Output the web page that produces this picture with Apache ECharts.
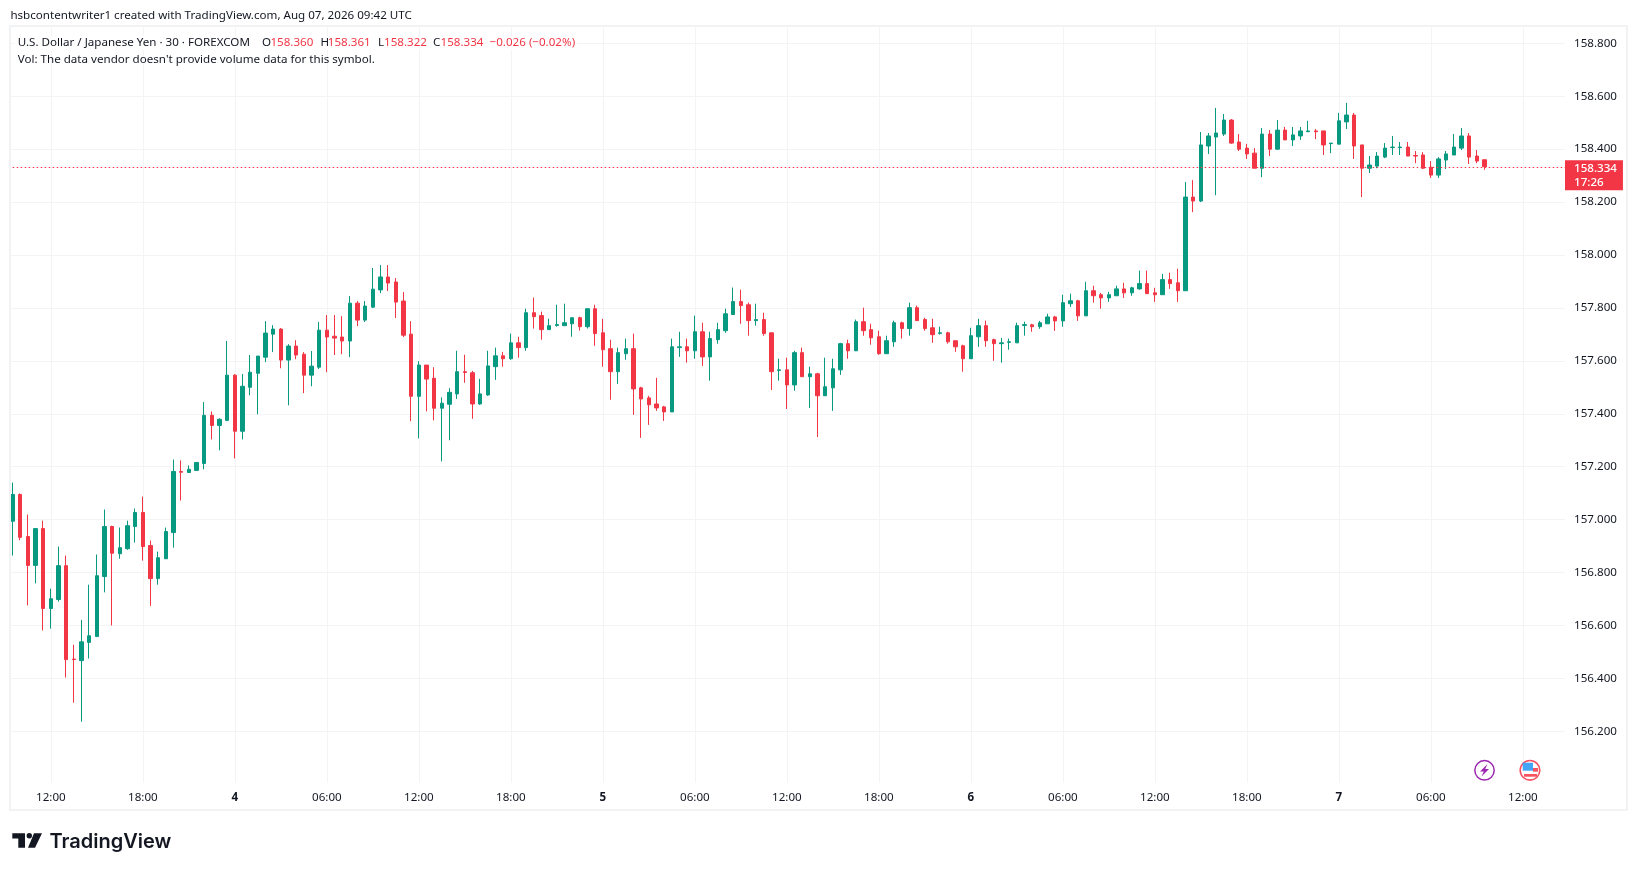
<!DOCTYPE html>
<html><head><meta charset="utf-8">
<style>html,body{margin:0;padding:0;background:#fff}#c{width:1637px;height:871px}</style>
<script src="https://cdn.jsdelivr.net/npm/echarts@6/dist/echarts.min.js"></script>
</head><body><div id="c"></div>
<script>
const opens=[156.994,157.095,156.936,156.827,156.966,156.664,156.698,156.826,156.473,156.467,156.536,156.558,156.785,156.974,156.871,156.890,156.974,157.027,156.902,156.777,156.852,156.951,157.182,157.178,157.186,157.212,157.394,157.356,157.375,157.546,157.334,157.500,157.553,157.614,157.701,157.720,157.603,157.656,157.625,157.546,157.576,157.716,157.693,157.690,157.675,157.818,157.754,157.803,157.868,157.917,157.898,157.826,157.701,157.466,157.584,157.534,157.421,157.436,157.475,157.559,157.555,157.437,157.471,157.578,157.619,157.608,157.668,157.650,157.782,157.771,157.718,157.734,157.733,157.740,157.763,157.729,157.797,157.706,157.646,157.559,157.627,157.646,157.498,157.460,157.437,157.426,157.407,157.650,157.653,157.638,157.710,157.615,157.680,157.714,157.775,157.824,157.812,157.752,157.756,157.706,157.564,157.566,157.509,157.631,157.540,157.551,157.468,157.498,157.566,157.665,157.638,157.748,157.718,157.691,157.627,157.672,157.744,157.722,157.801,157.756,157.725,157.704,157.706,157.676,157.657,157.608,157.691,157.733,157.680,157.665,157.670,157.668,157.734,157.736,157.729,157.740,157.766,157.751,157.816,157.827,157.770,157.865,157.850,157.838,157.846,157.872,157.857,157.872,157.892,157.857,157.850,157.907,157.895,157.865,158.219,158.204,158.412,158.446,158.457,158.510,158.427,158.404,158.385,158.328,158.457,158.400,158.472,158.435,158.450,158.466,158.469,158.469,158.421,158.419,158.503,158.529,158.416,158.328,158.336,158.370,158.406,158.406,158.408,158.376,158.378,158.332,158.302,158.359,158.378,158.404,158.450,158.374,158.360];
const closes=[157.095,156.933,156.827,156.966,156.664,156.701,156.826,156.471,156.471,156.538,156.561,156.788,156.974,156.873,156.894,156.977,157.027,156.898,156.777,156.856,156.955,157.182,157.179,157.190,157.216,157.394,157.356,157.379,157.546,157.334,157.504,157.557,157.618,157.705,157.720,157.603,157.656,157.622,157.546,157.580,157.716,157.690,157.686,157.675,157.818,157.754,157.807,157.871,157.917,157.894,157.822,157.697,157.466,157.584,157.531,157.421,157.440,157.481,157.559,157.556,157.437,157.475,157.581,157.619,157.608,157.668,157.650,157.782,157.767,157.718,157.733,157.737,157.744,157.763,157.729,157.797,157.703,157.642,157.559,157.631,157.646,157.494,157.456,157.434,157.422,157.407,157.653,157.653,157.638,157.710,157.615,157.684,157.718,157.778,157.824,157.809,157.752,157.756,157.703,157.559,157.566,157.509,157.631,157.540,157.551,157.468,157.502,157.570,157.665,157.638,157.748,157.714,157.687,157.627,157.676,157.744,157.722,157.801,157.752,157.722,157.699,157.706,157.672,157.653,157.608,157.695,157.733,157.676,157.665,157.668,157.672,157.733,157.737,157.729,157.744,157.766,157.751,157.820,157.827,157.770,157.865,157.846,157.838,157.850,157.872,157.857,157.876,157.892,157.854,157.850,157.907,157.892,157.865,158.219,158.204,158.416,158.450,158.461,158.510,158.423,158.400,158.382,158.328,158.457,158.400,158.472,158.435,158.454,158.469,158.469,158.466,158.416,158.423,158.507,158.529,158.412,158.328,158.340,158.374,158.404,158.408,158.408,158.374,158.374,158.328,158.302,158.363,158.382,158.408,158.450,158.370,158.355,158.334];
const lows=[156.864,156.922,156.676,156.759,156.581,156.588,156.690,156.403,156.308,156.236,156.475,156.558,156.725,156.600,156.852,156.886,156.913,156.845,156.674,156.754,156.852,156.894,157.072,157.178,157.186,157.190,157.303,157.262,157.375,157.231,157.303,157.470,157.398,157.595,157.633,157.572,157.432,157.606,157.478,157.504,157.569,157.557,157.622,157.625,157.614,157.731,157.747,157.800,157.856,157.864,157.762,157.690,157.372,157.307,157.409,157.375,157.220,157.300,157.456,157.517,157.381,157.434,157.468,157.528,157.578,157.604,157.612,157.638,157.722,157.680,157.718,157.729,157.733,157.691,157.714,157.722,157.657,157.578,157.453,157.513,157.604,157.396,157.309,157.358,157.411,157.373,157.407,157.615,157.593,157.608,157.581,157.525,157.665,157.706,157.775,157.740,157.695,157.733,157.695,157.490,157.525,157.418,157.487,157.540,157.422,157.312,157.468,157.411,157.547,157.608,157.638,157.695,157.661,157.623,157.627,157.653,157.684,157.695,157.752,157.714,157.668,157.699,157.665,157.634,157.559,157.608,157.653,157.653,157.600,157.593,157.642,157.668,157.695,157.710,157.721,157.740,157.713,157.729,157.804,157.751,157.770,157.820,157.797,157.823,157.846,157.838,157.846,157.869,157.854,157.823,157.850,157.872,157.823,157.865,158.162,158.200,158.382,158.226,158.450,158.420,158.393,158.363,158.328,158.294,158.374,158.397,158.435,158.412,158.435,158.465,158.438,158.378,158.385,158.419,158.476,158.363,158.219,158.310,158.328,158.366,158.378,158.378,158.374,158.347,158.325,158.291,158.291,158.325,158.378,158.397,158.344,158.347,158.322];
const highs=[157.140,157.099,157.019,156.966,156.996,156.739,156.898,156.864,156.527,156.621,156.754,156.868,157.038,156.977,156.970,156.996,157.042,157.087,156.921,156.879,156.970,157.227,157.224,157.205,157.216,157.444,157.409,157.383,157.675,157.550,157.550,157.622,157.618,157.750,157.735,157.724,157.663,157.678,157.633,157.637,157.747,157.773,157.773,157.769,157.845,157.826,157.826,157.951,157.962,157.962,157.913,157.860,157.750,157.599,157.584,157.576,157.462,157.497,157.638,157.623,157.562,157.532,157.638,157.650,157.634,157.703,157.691,157.797,157.839,157.786,157.759,157.812,157.816,157.763,157.767,157.797,157.812,157.759,157.680,157.650,157.684,157.703,157.502,157.468,157.536,157.430,157.684,157.710,157.684,157.771,157.744,157.710,157.744,157.797,157.877,157.869,157.820,157.816,157.782,157.706,157.608,157.612,157.638,157.650,157.578,157.555,157.612,157.608,157.668,157.680,157.756,157.801,157.740,157.714,157.695,157.752,157.748,157.820,157.809,157.763,157.759,157.729,157.710,157.676,157.661,157.725,157.759,157.752,157.684,157.687,157.684,157.744,157.748,157.740,157.751,157.778,157.770,157.850,157.854,157.831,157.899,157.884,157.857,157.861,157.884,157.895,157.880,157.941,157.941,157.876,157.929,157.933,157.948,158.276,158.283,158.465,158.461,158.556,158.533,158.514,158.457,158.420,158.404,158.480,158.472,158.510,158.484,158.484,158.484,158.507,158.476,158.469,158.423,158.537,158.575,158.537,158.416,158.374,158.389,158.423,158.450,158.427,158.427,158.393,158.389,158.355,158.370,158.393,158.457,158.480,158.461,158.397,158.361];
const tickBars=[5,17,29,41,53,65,77,89,101,113,125,137,149,161,173,185,197];
const tickTexts=['12:00','18:00','4','06:00','12:00','18:00','5','06:00','12:00','18:00','6','06:00','12:00','18:00','7','06:00','12:00'];
const priceTicks=[156.2,156.4,156.6,156.8,157.0,157.2,157.4,157.6,157.8,158.0,158.2,158.4,158.6,158.8];
const lastPrice=158.334, countdown='17:26';
const barSlots=203;

const UP='#089981',DOWN='#F23645',INK='#131722',GRID='#F3F4F6';
const FONT='"Noto Sans",sans-serif';
const categories=[];for(let i=0;i<barSlots;i++)categories.push('bar '+i);
const candles=opens.map((o,i)=>[o,closes[i],lows[i],highs[i]]);
const isTick=i=>tickBars.indexOf(i)>=0;
const SIZE=11.6;
const txt=(x,y,s,fill)=>({type:'text',x,y,silent:true,style:{text:s,fill,font:'normal '+SIZE+'px '+FONT,textVerticalAlign:'middle',textBaseline:'middle'}});

const graphics=[
 {type:'rect',silent:true,shape:{x:0,y:24,width:9,height:788},style:{fill:'#fff'}},
 {type:'rect',silent:true,shape:{x:10,y:26,width:1617,height:784},style:{fill:'none',stroke:'#F1F2F4',lineWidth:2}},
 {type:'rect',silent:true,shape:{x:15,y:36,width:562,height:14},style:{fill:'rgba(255,255,255,0.9)'}},
 txt(10.4,16,'hsbcontentwriter1 created with TradingView.com, Aug 07, 2026 09:42 UTC',INK),
 txt(17.7,43,'U.S. Dollar / Japanese Yen · 30 · FOREXCOM',INK),
 txt(262,43,'O',INK),txt(270.4,43,'158.360',DOWN),
 txt(320.5,43,'H',INK),txt(327.8,43,'158.361',DOWN),
 txt(378,43,'L',INK),txt(384,43,'158.322',DOWN),
 txt(433,43,'C',INK),txt(440.6,43,'158.334',DOWN),
 txt(489.6,43,'−0.026 (−0.02%)',DOWN),
 txt(17.7,60,"Vol: The data vendor doesn't provide volume data for this symbol.",INK),
 // event markers
 {type:'circle',silent:true,shape:{cx:1484.5,cy:770.3,r:9.7},style:{fill:'#fff',stroke:'#9C27B0',lineWidth:1.5}},
 {type:'polygon',silent:true,shape:{points:[[1487.5,764],[1480,771.5],[1483.8,771.5],[1481.5,776.5],[1489,769],[1485.2,769]]},style:{fill:'#9C27B0'}},
 {type:'circle',silent:true,shape:{cx:1530,cy:770.3,r:9.8},style:{fill:'#fff',stroke:'#F7525F',lineWidth:1.6}},
 {type:'rect',silent:true,shape:{x:1533,y:768,width:5,height:3.7},style:{fill:'#F7525F'}},
 {type:'rect',silent:true,shape:{x:1524,y:774,width:13,height:2.7},style:{fill:'#F7525F'}},
 {type:'rect',silent:true,shape:{x:1522.7,y:762.7,width:10.3,height:8},style:{fill:'#42A5F5'}},
 // logo
 {type:'polygon',silent:true,shape:{points:[[12.3,833.3],[25,833.3],[25,847.7],[18.3,847.7],[18.3,838.5],[12.3,838.5]]},style:{fill:INK}},
 {type:'circle',silent:true,shape:{cx:29.3,cy:835.8,r:2.7},style:{fill:INK}},
 {type:'polygon',silent:true,shape:{points:[[34,833.3],[42,833.3],[35,847.7],[28,847.7]]},style:{fill:INK}},
 {type:'text',silent:true,x:49.5,y:841.5,style:{text:'TradingView',fill:INK,font:'600 20px Inter,sans-serif',textVerticalAlign:'middle',textBaseline:'middle'}}
];
graphics.forEach(g=>{g.z=100;});

const chart=echarts.init(document.getElementById('c'),null,{renderer:'canvas'});
chart.setOption({
 animation:false,backgroundColor:'#fff',
 textStyle:{fontFamily:FONT},
 grid:{left:8.7,top:26,width:1556.3,height:756.7,containLabel:false},
 xAxis:{type:'category',data:categories,boundaryGap:true,
  axisLine:{show:false},axisTick:{show:false},
  splitLine:{show:true,alignWithLabel:true,interval:(i)=>isTick(i),lineStyle:{color:GRID,width:1}},
  axisLabel:{interval:(i)=>isTick(i),margin:9,fontFamily:FONT,fontSize:SIZE,color:INK,
   formatter:(v,i)=>{const t=tickTexts[tickBars.indexOf(i)];return t&&t.indexOf(':')<0?'{d|'+t+'}':t;},
   rich:{d:{fontFamily:FONT,fontSize:SIZE,fontWeight:'bold',color:INK}}}},
 yAxis:{type:'value',position:'right',min:156.0057,max:158.8655,scale:true,
  axisLine:{show:false},axisTick:{show:false,customValues:priceTicks},
  splitLine:{show:true,lineStyle:{color:GRID,width:1}},
  axisLabel:{customValues:priceTicks,margin:9,padding:[2,0,0,0],fontFamily:FONT,fontSize:SIZE,color:INK,formatter:v=>v.toFixed(3)}},
 series:[{type:'candlestick',data:candles,barWidth:4,silent:true,clip:false,
  itemStyle:{color:UP,color0:DOWN,borderColor:UP,borderColor0:DOWN,borderWidth:1},
  markLine:{silent:true,symbol:'none',animation:false,
   lineStyle:{color:DOWN,width:1,type:[1.5,2.5]},
   label:{show:true,position:'end',distance:0,offset:[0,7.5],formatter:lastPrice.toFixed(3)+'\n'+countdown,
    backgroundColor:DOWN,color:'#fff',fontFamily:FONT,fontSize:SIZE,fontWeight:500,lineHeight:14,padding:[1,6,1,9],align:'left'},
   data:[{yAxis:lastPrice}]}}],
 graphic:{elements:graphics}
});
</script></body></html>
